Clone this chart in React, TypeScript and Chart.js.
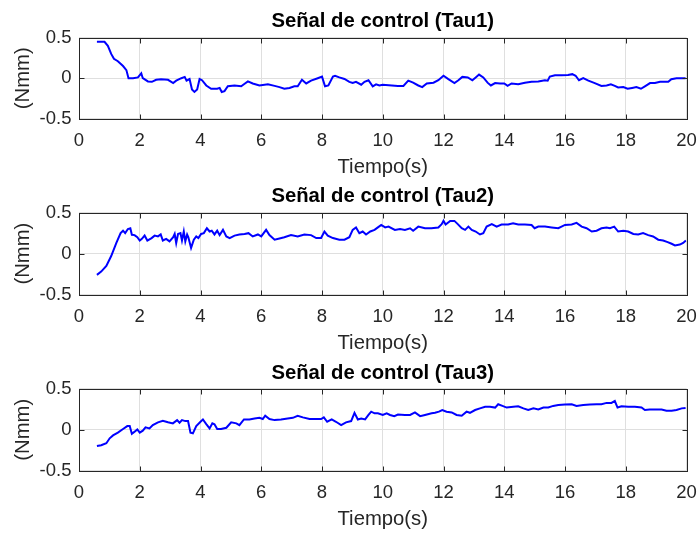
import React, { useEffect, useRef } from "react";
import { Chart, registerables } from "chart.js";

Chart.register(...registerables);

// ---------- data ----------
const panelTitles = ["Señal de control (Tau1)", "Señal de control (Tau2)", "Señal de control (Tau3)"];
const yAxisLabel = "(Nmm)";
const xAxisLabel = "Tiempo(s)";
const xTickValues = [0, 2, 4, 6, 8, 10, 12, 14, 16, 18, 20];
const yTickValues = [-0.5, 0, 0.5];

const tau1Time = [
  0.59, 0.84, 0.95, 1.06, 1.15, 1.28, 1.45, 1.56, 1.63, 1.78,
  1.94, 2.05, 2.1, 2.27, 2.4, 2.54, 2.7, 2.93, 3.1, 3.2,
  3.37, 3.48, 3.54, 3.64, 3.72, 3.8, 3.89, 3.97, 4.05, 4.19,
  4.35, 4.55, 4.63, 4.7, 4.79, 4.9, 5.12, 5.34, 5.43, 5.56,
  5.72, 5.94, 6.22, 6.44, 6.6, 6.76, 6.93, 7.09, 7.2, 7.34,
  7.48, 7.64, 7.86, 8.0, 8.1, 8.21, 8.36, 8.43, 8.57, 8.74,
  8.9, 9.01, 9.12, 9.29, 9.4, 9.53, 9.67, 9.78, 9.89, 10.0,
  10.3, 10.5, 10.68, 10.84, 11.0, 11.17, 11.3, 11.45, 11.67, 11.83,
  12.0, 12.16, 12.36, 12.49, 12.62, 12.8, 12.95, 13.06, 13.17, 13.31,
  13.45, 13.56, 13.7, 13.86, 14.0, 14.11, 14.24, 14.46, 14.68, 14.9,
  15.12, 15.34, 15.43, 15.5, 15.67, 15.89, 16.1, 16.24, 16.35, 16.46,
  16.6, 16.77, 16.98, 17.2, 17.37, 17.51, 17.64, 17.75, 17.92, 18.06,
  18.21, 18.35, 18.5, 18.63, 18.8, 18.96, 19.13, 19.29, 19.4, 19.5,
  19.67, 19.84, 19.97,
];
const tau1Values = [
  0.45, 0.45, 0.4, 0.3, 0.24, 0.21, 0.15, 0.1, 0.0, 0.0,
  0.01, 0.06, 0.0, -0.04, -0.045, -0.02, -0.012, -0.02, -0.06, -0.03,
  0.0, 0.016, -0.03, -0.01, -0.14, -0.17, -0.14, -0.01, -0.025, -0.09,
  -0.13, -0.13, -0.12, -0.17, -0.16, -0.1, -0.09, -0.1, -0.075, -0.04,
  -0.065, -0.09, -0.075, -0.095, -0.11, -0.13, -0.12, -0.1, -0.1, -0.02,
  -0.065, -0.03, 0.0, 0.02, -0.1, -0.09, 0.02, 0.03, 0.01, -0.01,
  -0.045, -0.06, -0.045, -0.08, -0.045, -0.025, -0.1, -0.075, -0.09, -0.08,
  -0.09, -0.095, -0.095, -0.03, -0.055, -0.09, -0.11, -0.065, -0.055, -0.025,
  0.03, -0.012, -0.06, -0.025, 0.016, 0.01, -0.025, 0.01, 0.045, 0.01,
  -0.055, -0.09, -0.06, -0.065, -0.065, -0.095, -0.065, -0.075, -0.055, -0.045,
  -0.04, -0.025, -0.03, 0.02, 0.037, 0.037, 0.04, 0.05, 0.03, -0.025,
  0.0, -0.03, -0.06, -0.095, -0.09, -0.075, -0.095, -0.115, -0.11, -0.13,
  -0.12, -0.11, -0.13, -0.1, -0.06, -0.06, -0.045, -0.045, -0.045, -0.012,
  0.0, 0.0, 0.0,
];

const tau2Time = [
  0.59, 0.73, 0.9, 1.06, 1.23, 1.37, 1.45, 1.52, 1.61, 1.69,
  1.74, 1.83, 1.92, 2.0, 2.07, 2.16, 2.25, 2.39, 2.49, 2.6,
  2.69, 2.76, 2.87, 2.98, 3.1, 3.15, 3.2, 3.26, 3.34, 3.39,
  3.45, 3.5, 3.56, 3.6, 3.69, 3.78, 3.86, 3.93, 4.02, 4.11,
  4.21, 4.3, 4.37, 4.46, 4.55, 4.63, 4.74, 4.85, 4.96, 5.12,
  5.28, 5.45, 5.58, 5.72, 5.89, 6.0, 6.16, 6.27, 6.44, 6.6,
  6.76, 6.98, 7.2, 7.42, 7.64, 7.81, 7.97, 8.08, 8.19, 8.36,
  8.57, 8.74, 8.9, 9.01, 9.12, 9.23, 9.34, 9.45, 9.59, 9.73,
  9.84, 9.95, 10.08, 10.19, 10.4, 10.57, 10.73, 10.9, 11.0, 11.17,
  11.39, 11.6, 11.83, 11.94, 12.0, 12.07, 12.22, 12.36, 12.47, 12.6,
  12.71, 12.82, 12.93, 13.06, 13.2, 13.31, 13.42, 13.59, 13.75, 13.91,
  14.13, 14.29, 14.46, 14.68, 14.9, 15.0, 15.12, 15.34, 15.56, 15.78,
  16.0, 16.22, 16.38, 16.55, 16.71, 16.88, 17.04, 17.2, 17.37, 17.48,
  17.62, 17.75, 17.92, 18.08, 18.25, 18.41, 18.57, 18.74, 18.9, 19.07,
  19.23, 19.38, 19.51, 19.62, 19.78, 19.89, 19.98,
];
const tau2Values = [
  -0.26, -0.22, -0.15, -0.03, 0.13, 0.25, 0.28, 0.25, 0.3, 0.31,
  0.23, 0.226, 0.2, 0.16, 0.18, 0.22, 0.16, 0.19, 0.22, 0.21,
  0.234, 0.16, 0.18, 0.15, 0.2, 0.24, 0.13, 0.24, 0.25, 0.16,
  0.27, 0.15, 0.234, 0.2, 0.07, 0.17, 0.21, 0.19, 0.24, 0.25,
  0.31, 0.27, 0.28, 0.234, 0.28, 0.226, 0.29, 0.21, 0.19, 0.22,
  0.234, 0.24, 0.25, 0.21, 0.234, 0.21, 0.29, 0.226, 0.17, 0.185,
  0.2, 0.226, 0.21, 0.234, 0.226, 0.19, 0.19, 0.27, 0.22, 0.19,
  0.17, 0.17, 0.2, 0.29, 0.32, 0.25, 0.27, 0.234, 0.27, 0.29,
  0.32, 0.35, 0.32, 0.33, 0.29, 0.3, 0.29, 0.31, 0.28, 0.33,
  0.31, 0.31, 0.32, 0.36, 0.4, 0.355, 0.4, 0.4, 0.36, 0.31,
  0.29, 0.33, 0.29, 0.27, 0.234, 0.25, 0.33, 0.36, 0.33, 0.355,
  0.355, 0.37, 0.355, 0.355, 0.35, 0.31, 0.33, 0.33, 0.32, 0.31,
  0.35, 0.355, 0.375, 0.33, 0.31, 0.27, 0.28, 0.31, 0.32, 0.31,
  0.33, 0.27, 0.28, 0.27, 0.24, 0.234, 0.25, 0.226, 0.21, 0.17,
  0.16, 0.14, 0.12, 0.1, 0.11, 0.13, 0.16,
];

const tau3Time = [
  0.59, 0.73, 0.9, 1.01, 1.12, 1.28, 1.45, 1.59, 1.67, 1.74,
  1.81, 1.92, 2.0, 2.1, 2.19, 2.32, 2.43, 2.6, 2.76, 2.93,
  3.09, 3.23, 3.31, 3.39, 3.5, 3.59, 3.67, 3.75, 3.86, 4.0,
  4.08, 4.19, 4.3, 4.39, 4.46, 4.55, 4.68, 4.85, 5.01, 5.18,
  5.28, 5.43, 5.61, 5.78, 5.94, 6.05, 6.13, 6.27, 6.44, 6.65,
  6.87, 7.04, 7.2, 7.37, 7.59, 7.81, 7.97, 8.06, 8.17, 8.32,
  8.46, 8.63, 8.79, 8.96, 9.07, 9.18, 9.29, 9.42, 9.53, 9.62,
  9.73, 9.84, 10.0, 10.13, 10.24, 10.38, 10.5, 10.73, 10.9, 11.06,
  11.23, 11.39, 11.61, 11.72, 11.85, 11.96, 12.1, 12.27, 12.43, 12.6,
  12.76, 12.87, 13.04, 13.2, 13.37, 13.53, 13.7, 13.8, 13.94, 14.08,
  14.3, 14.46, 14.63, 14.79, 14.96, 15.12, 15.29, 15.45, 15.61, 15.78,
  16.0, 16.22, 16.38, 16.6, 16.82, 17.04, 17.2, 17.37, 17.53, 17.64,
  17.73, 17.86, 18.08, 18.3, 18.52, 18.63, 18.79, 18.96, 19.18, 19.34,
  19.51, 19.67, 19.84, 19.97,
];
const tau3Values = [
  -0.2, -0.19, -0.165, -0.105, -0.07, -0.036, 0.008, 0.044, 0.044, -0.05,
  -0.03, 0.004, -0.036, -0.012, 0.028, 0.016, 0.056, 0.09, 0.11, 0.09,
  0.077, 0.117, 0.085, 0.117, 0.105, 0.105, -0.036, -0.044, 0.044, 0.097,
  0.125, 0.069, 0.016, 0.077, 0.065, 0.008, 0.008, 0.024, 0.09, 0.077,
  0.056, 0.125, 0.125, 0.137, 0.145, 0.13, 0.17, 0.13, 0.117, 0.125,
  0.137, 0.145, 0.17, 0.15, 0.13, 0.13, 0.13, 0.15, 0.097, 0.125,
  0.097, 0.056, 0.09, 0.105, 0.206, 0.125, 0.137, 0.125, 0.18, 0.22,
  0.2, 0.2, 0.18, 0.2, 0.18, 0.165, 0.185, 0.18, 0.18, 0.21,
  0.165, 0.18, 0.2, 0.206, 0.22, 0.24, 0.22, 0.21, 0.18, 0.17,
  0.22, 0.206, 0.24, 0.26, 0.28, 0.28, 0.27, 0.31, 0.29, 0.27,
  0.28, 0.286, 0.26, 0.24, 0.26, 0.246, 0.27, 0.27, 0.29, 0.3,
  0.306, 0.31, 0.29, 0.3, 0.306, 0.31, 0.31, 0.327, 0.327, 0.35,
  0.27, 0.286, 0.28, 0.28, 0.27, 0.24, 0.246, 0.246, 0.246, 0.23,
  0.23, 0.24, 0.26, 0.266,
];

const seriesTimes = [tau1Time, tau2Time, tau3Time];
const seriesValues = [tau1Values, tau2Values, tau3Values];

// ---------- layout / style ----------
const W = 699;
const FONT = "'Liberation Sans', Arial, Helvetica, sans-serif";
const TICK_SIZE = 18.5;
const LABEL_SIZE = 20.3;
const LH = 1.2;
const TICK_PAD_X = 10.9;
const XTITLE_PAD_TOP = 3.2;
const AREA_LEFT = 79;
const AREA_RIGHT = 686.5;

const panelBoxes = [
  { top: 0, height: 180, titleCenter: 21, areaTop: 37.7, areaBottom: 118.7 },
  { top: 178, height: 178, titleCenter: 196, areaTop: 212.7, areaBottom: 294.5 },
  { top: 356, height: 180, titleCenter: 373.5, areaTop: 388.7, areaBottom: 470.7 },
];

const boxPlugin = {
  id: "matlabBox",
  afterDatasetsDraw(chart: any) {
    const { ctx, chartArea: a, scales } = chart;
    const al = (v: number) => Math.round(v) + 0.5;
    ctx.save();
    ctx.strokeStyle = "#262626";
    ctx.lineWidth = 1;
    const l = al(a.left), r = al(a.right), t = al(a.top), b = al(a.bottom);
    ctx.strokeRect(l, t, r - l, b - t);
    const L = 5;
    ctx.beginPath();
    for (const v of xTickValues) {
      const px = al(scales.x.getPixelForValue(v));
      ctx.moveTo(px, b); ctx.lineTo(px, b - L);
      ctx.moveTo(px, t); ctx.lineTo(px, t + L);
    }
    for (const v of yTickValues) {
      const py = al(scales.y.getPixelForValue(v));
      ctx.moveTo(l, py); ctx.lineTo(l + L, py);
      ctx.moveTo(r, py); ctx.lineTo(r - L, py);
    }
    ctx.stroke();
    ctx.restore();
  },
};

function Panel({ index }: { index: number }) {
  const ref = useRef<HTMLCanvasElement | null>(null);
  const box = panelBoxes[index];
  useEffect(() => {
    if (!ref.current) return;
    const titleLH = LABEL_SIZE * LH;
    const tickLH = TICK_SIZE * LH;
    const xScaleH = TICK_PAD_X + tickLH + XTITLE_PAD_TOP + titleLH;
    const tc = box.titleCenter - box.top;
    const aTop = box.areaTop - box.top;
    const aBot = box.areaBottom - box.top;
    const padBottom = Math.max(0, box.height - aBot - xScaleH);
    const times = seriesTimes[index];
    const vals = seriesValues[index];
    const data = times.map((t, i) => ({ x: t, y: vals[i] }));
    const chart = new Chart(ref.current, {
      type: "line",
      data: {
        datasets: [
          {
            data,
            borderColor: "#0000ff",
            borderWidth: 2,
            pointRadius: 0,
            tension: 0,
            fill: false,
          },
        ],
      },
      options: {
        responsive: false,
        animation: false,
        maintainAspectRatio: false,
        events: [],
        layout: { padding: { left: 0, right: W - AREA_RIGHT, top: 0, bottom: padBottom } },
        plugins: {
          legend: { display: false },
          tooltip: { enabled: false },
          title: {
            display: true,
            fullSize: false,
            text: panelTitles[index],
            color: "#000000",
            font: { family: FONT, size: LABEL_SIZE, weight: "bold", lineHeight: LH },
            padding: { top: tc - titleLH / 2, bottom: aTop - tc - titleLH / 2 },
          },
        },
        scales: {
          x: {
            type: "linear",
            min: 0,
            max: 20,
            afterBuildTicks: (s: any) => {
              s.ticks = xTickValues.map((v) => ({ value: v }));
            },
            afterFit: (s: any) => {
              s.height = xScaleH;
              s.paddingLeft = 0;
              s.paddingRight = 0;
            },
            ticks: {
              autoSkip: false,
              maxRotation: 0,
              padding: TICK_PAD_X,
              color: "#262626",
              font: { family: FONT, size: TICK_SIZE, lineHeight: LH },
              callback: (v: any) => String(v),
            },
            grid: { color: "#dfdfdf", lineWidth: 1, drawTicks: false },
            border: { display: false },
            title: {
              display: true,
              text: xAxisLabel,
              color: "#262626",
              font: { family: FONT, size: LABEL_SIZE, lineHeight: LH },
              padding: { top: XTITLE_PAD_TOP, bottom: 0 },
            },
          },
          y: {
            type: "linear",
            min: -0.5,
            max: 0.5,
            afterBuildTicks: (s: any) => {
              s.ticks = yTickValues.map((v) => ({ value: v }));
            },
            afterFit: (s: any) => {
              s.width = AREA_LEFT;
            },
            ticks: {
              padding: 7.5,
              color: "#262626",
              font: { family: FONT, size: TICK_SIZE, lineHeight: LH },
              callback: (v: any) => String(v),
            },
            grid: { color: "#dfdfdf", lineWidth: 1, drawTicks: false },
            border: { display: false },
            title: {
              display: true,
              text: yAxisLabel,
              color: "#262626",
              font: { family: FONT, size: LABEL_SIZE, lineHeight: LH },
              padding: { top: 23.3 - titleLH / 2, bottom: 0 },
            },
          },
        },
      },
      plugins: [boxPlugin],
    } as any);
    return () => chart.destroy();
  }, [index]);
  return (
    <canvas
      ref={ref}
      width={W}
      height={box.height}
      style={{ position: "absolute", left: 0, top: box.top, width: W, height: box.height }}
    />
  );
}

export default function App() {
  return (
    <div style={{ position: "absolute", left: 0, top: 0, width: W, height: 536, background: "#ffffff" }}>
      <Panel index={0} />
      <Panel index={1} />
      <Panel index={2} />
    </div>
  );
}
